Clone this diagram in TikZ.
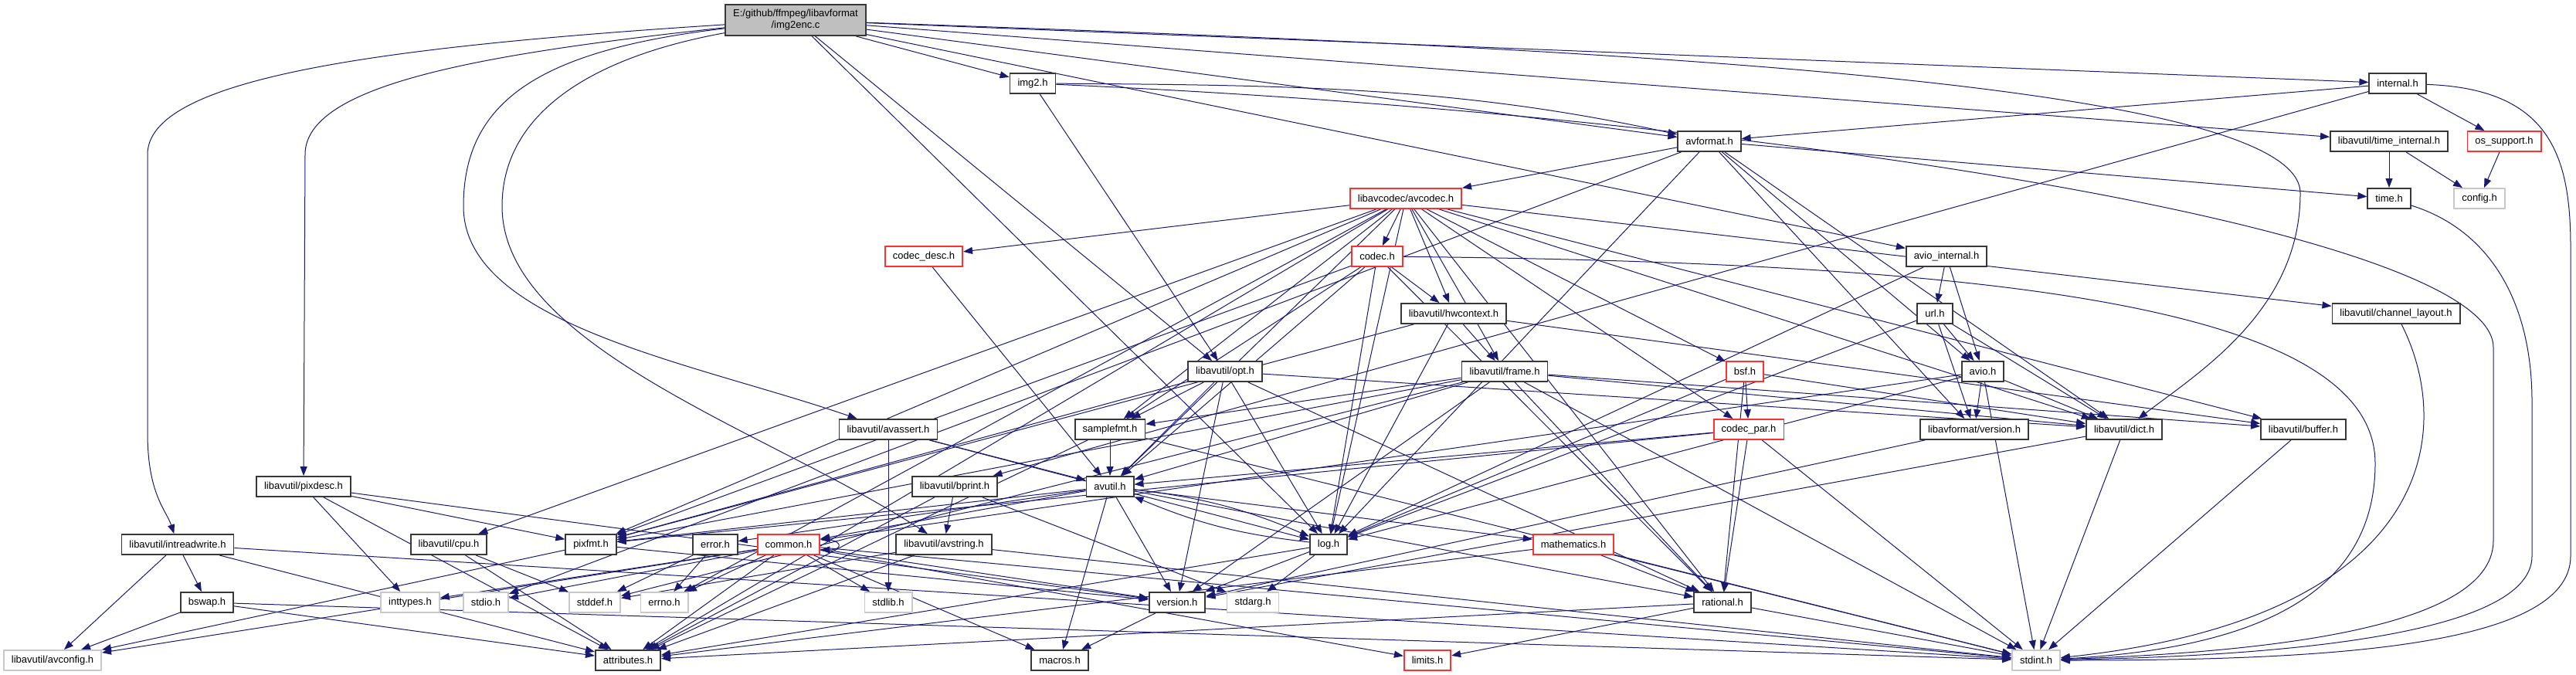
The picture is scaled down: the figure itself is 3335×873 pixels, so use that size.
\documentclass[tikz,border=0pt]{standalone}
\usepackage{fontspec}
\setmainfont{Liberation Sans}
\usetikzlibrary{arrows.meta}
\definecolor{edgec}{HTML}{191970}
\definecolor{nodered}{HTML}{FF3030}
\definecolor{nodegray}{HTML}{C8C8C8}
\definecolor{rootfill}{HTML}{BFBFBF}
\pgfdeclarelayer{bg}
\pgfsetlayers{bg,main}
\begin{document}
\begin{tikzpicture}[x=1pt,y=-1pt,
  base/.style={rectangle, fill=white, line width=1.8pt, minimum height=26pt, inner xsep=10pt, inner ysep=2pt, font=\fontsize{13}{15}\selectfont, text=black},
  nb/.style={base, draw=black!78},
  nr/.style={base, draw=nodered},
  ng/.style={base, draw=nodegray},
  e/.style={color=edgec, line width=1pt, -{Triangle[length=12pt,width=9pt]}},
]
\useasboundingbox (0,0) rectangle (3335,873);
% row 0
\node[nb, fill=rootfill, align=center, minimum height=40pt] (root) at (1030,26) {E:/github/ffmpeg/libavformat\\/img2enc.c};
% row 1
\node[nb] (img2) at (1337,108) {img2.h};
\node[nb] (internal) at (3104,108) {internal.h};
% row 2
\node[nb] (avformat) at (2213,183) {avformat.h};
\node[nb] (timeint) at (3093,183) {libavutil/time\_internal.h};
\node[nr] (ossupport) at (3242,183) {os\_support.h};
% row 3
\node[nr] (avcodec) at (1820,257) {libavcodec/avcodec.h};
\node[nb] (timeh) at (3093,257) {time.h};
\node[ng] (config) at (3210,257) {config.h};
% row 4
\node[nr] (codecdesc) at (1196,332) {codec\_desc.h};
\node[nr] (codec) at (1783,332) {codec.h};
\node[nb] (aviointernal) at (2520,332) {avio\_internal.h};
% row 5
\node[nb] (hwcontext) at (1882,406) {libavutil/hwcontext.h};
\node[nb] (url) at (2505,406) {url.h};
\node[nb] (chlayout) at (3102,406) {libavutil/channel\_layout.h};
% row 6
\node[nb] (opt) at (1586,481) {libavutil/opt.h};
\node[nb] (frame) at (1948,481) {libavutil/frame.h};
\node[nr] (bsf) at (2259,481) {bsf.h};
\node[nb] (avio) at (2567,481) {avio.h};
% row 7
\node[nb] (avassert) at (1150,556) {libavutil/avassert.h};
\node[nb] (samplefmt) at (1437,556) {samplefmt.h};
\node[nr] (codecpar) at (2264,556) {codec\_par.h};
\node[nb] (lavfversion) at (2556,556) {libavformat/version.h};
\node[nb] (dict) at (2750,556) {libavutil/dict.h};
\node[nb] (buffer) at (2982,556) {libavutil/buffer.h};
% row 8
\node[nb] (pixdesc) at (393,630) {libavutil/pixdesc.h};
\node[nb] (bprint) at (1236,630) {libavutil/bprint.h};
\node[nb] (avutil) at (1437,630) {avutil.h};
% row 9
\node[nb] (intreadwrite) at (230,705) {libavutil/intreadwrite.h};
\node[nb] (cpu) at (581,705) {libavutil/cpu.h};
\node[nb] (pixfmt) at (765,705) {pixfmt.h};
\node[nb] (error) at (926,705) {error.h};
\node[nr] (common) at (1021,705) {common.h};
\node[nb] (avstring) at (1222,705) {libavutil/avstring.h};
\node[nb] (log) at (1720,705) {log.h};
\node[nr] (mathematics) at (2037,705) {mathematics.h};
% row 10
\node[nb] (bswap) at (268,780) {bswap.h};
\node[ng] (inttypes) at (531,780) {inttypes.h};
\node[ng] (stdio) at (629,780) {stdio.h};
\node[ng] (stddef) at (770,780) {stddef.h};
\node[ng] (errno) at (860,780) {errno.h};
\node[ng] (stdlib) at (1150,780) {stdlib.h};
\node[nb] (version) at (1524,780) {version.h};
\node[ng] (stdarg) at (1622,780) {stdarg.h};
\node[nb] (rational) at (2230,780) {rational.h};
% row 11
\node[ng] (avconfig) at (68,855) {libavutil/avconfig.h};
\node[nb] (attributes) at (813,855) {attributes.h};
\node[nb] (macros) at (1372,855) {macros.h};
\node[nr] (limits) at (1848,855) {limits.h};
\node[ng] (stdint) at (2636,855) {stdint.h};

\begin{pgfonlayer}{bg}
\foreach \a/\b in {
 root/avformat, root/aviointernal, root/internal, root/img2, root/timeint, root/log, root/opt,
 img2/opt,
 internal/avformat, internal/bprint, internal/ossupport,
 ossupport/config, timeint/timeh, timeint/config,
 avformat/avcodec, avformat/timeh, avformat/stdio, avformat/dict, avformat/log, avformat/avio, avformat/lavfversion,
 aviointernal/url, aviointernal/log, aviointernal/avio,
 url/avio, url/lavfversion, url/dict, url/log,
 avio/stdint, avio/common, avio/dict, avio/log, avio/lavfversion,
 lavfversion/version,
 avcodec/errno, avcodec/samplefmt, avcodec/attributes, avcodec/avutil, avcodec/buffer, avcodec/cpu, avcodec/chlayout, avcodec/dict, avcodec/frame, avcodec/hwcontext, avcodec/log, avcodec/pixfmt, avcodec/rational, avcodec/bsf, avcodec/codec, avcodec/codecdesc, avcodec/codecpar,
 codec/avutil, codec/hwcontext, codec/log, codec/pixfmt, codec/rational, codec/samplefmt,
 codecdesc/avutil,
 codecpar/stdint, codecpar/avutil, codecpar/rational, codecpar/pixfmt,
 bsf/dict, bsf/log, bsf/rational, bsf/codecpar,
 hwcontext/buffer, hwcontext/frame, hwcontext/log, hwcontext/pixfmt,
 frame/stddef, frame/stdint, frame/avutil, frame/buffer, frame/dict, frame/rational, frame/samplefmt, frame/pixfmt, frame/version,
 buffer/stdint, dict/stdint, dict/version,
 opt/rational, opt/avutil, opt/dict, opt/log, opt/pixfmt, opt/samplefmt, opt/version,
 samplefmt/stdint, samplefmt/avutil, samplefmt/attributes,
 avassert/stdlib, avassert/avutil, avassert/log,
 bprint/stdarg, bprint/attributes, bprint/avstring,
 avstring/stddef, avstring/stdint, avstring/attributes,
 pixdesc/inttypes, pixdesc/attributes, pixdesc/pixfmt, pixdesc/version,
 intreadwrite/stdint, intreadwrite/avconfig, intreadwrite/attributes, intreadwrite/bswap,
 bswap/stdint, bswap/avconfig, bswap/attributes,
 cpu/stddef, cpu/attributes,
 avutil/common, avutil/error, avutil/rational, avutil/version, avutil/macros, avutil/mathematics, avutil/pixfmt,
 log/stdarg, log/attributes, log/version,
 common/errno, common/inttypes, common/limits, common/stdint, common/stdio, common/stdlib, common/attributes, common/macros, common/version, common/avconfig,
 error/errno, error/stddef,
 mathematics/stdint, mathematics/attributes, mathematics/rational,
 rational/stdint, rational/limits, rational/attributes,
 pixfmt/avconfig, pixfmt/version,
 version/macros}
 {\draw[e] (\a) -- (\b);}
% paired edges between avutil and log
\draw[e] (avutil) to[bend left=8] (log);
\draw[e] (log) to[bend left=8] (avutil);
% self loop
\draw[e] ([yshift=-7pt]common.north east) .. controls +(30,0) and +(30,0) .. ([yshift=7pt]common.south east);
% long routed edges
\draw[e] (root) .. controls (500,60) and (191,100) .. (191,200) -- (191,560) .. controls (191,640) and (215,660) .. (intreadwrite);
\draw[e] (root) .. controls (620,70) and (395,110) .. (395,200) -- (pixdesc);
\draw[e] (root) .. controls (700,65) and (600,130) .. (600,267) .. controls (600,420) and (900,470) .. (avassert);
\draw[e] (root) .. controls (760,75) and (650,150) .. (650,267) .. controls (650,450) and (1000,560) .. (avstring);
\draw[e] (root) .. controls (2000,60) and (2978,100) .. (2978,250) .. controls (2978,400) and (2850,480) .. (dict);
\draw[e] (internal) .. controls (3300,115) and (3328,200) .. (3328,320) -- (3328,720) .. controls (3328,840) and (3000,855) .. (stdint);
\draw[e] (timeh) .. controls (3230,300) and (3278,400) .. (3278,520) -- (3278,720) .. controls (3278,830) and (2900,850) .. (stdint);
\draw[e] (img2) .. controls (2300,150) and (3228,300) .. (3228,450) -- (3228,700) .. controls (3228,820) and (2900,845) .. (stdint);
\draw[e] (img2) .. controls (1700,110) and (1900,115) .. (avformat);
\draw[e] (chlayout) .. controls (3180,560) and (3150,800) .. (stdint);
\draw[e] (codec) .. controls (2600,340) and (3075,400) .. (3075,600) .. controls (3075,780) and (2900,840) .. (stdint);
\end{pgfonlayer}
\end{tikzpicture}
\end{document}
